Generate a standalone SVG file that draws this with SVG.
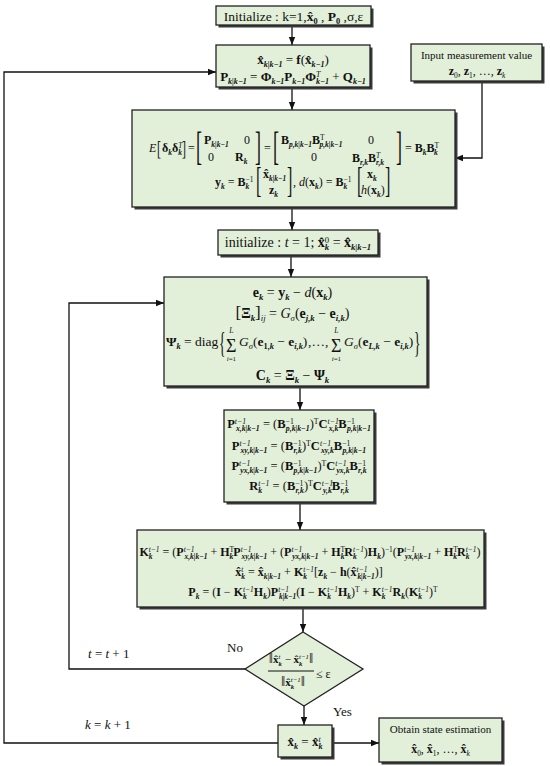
<svg xmlns="http://www.w3.org/2000/svg" width="550" height="766" viewBox="0 0 550 766">
<defs>
<style>
.m{font-family:"Liberation Serif","DejaVu Serif",serif;font-size:13px;fill:#111}
.b{font-weight:bold}
.i{font-style:italic}
.s{font-size:62%;baseline-shift:-3px}
.p{font-size:62%;baseline-shift:4.5px}
.bx{fill:#e2efd9;stroke:#222;stroke-width:1.3}
.sh{fill:#3a3a3a}
.ln{fill:none;stroke:#111;stroke-width:1.3}
.br{font-family:"Liberation Serif",serif;fill:#111}
.lb{font-family:"Liberation Serif",serif;font-size:13px;fill:#111}
</style>
<marker id="ah" viewBox="0 0 10 10" refX="10" refY="5" markerWidth="8" markerHeight="8" markerUnits="userSpaceOnUse" orient="auto"><path d="M0,1 L10,5 L0,9 z" fill="#111"/></marker>
</defs>
<rect width="550" height="766" fill="#fff"/>

<g id="connectors">
<path class="ln" d="M292,25 V45" marker-end="url(#ah)"/>
<path class="ln" d="M292,87 V110" marker-end="url(#ah)"/>
<path class="ln" d="M482,81 V158 H455" marker-end="url(#ah)"/>
<path class="ln" d="M292,207 V230" marker-end="url(#ah)"/>
<path class="ln" d="M291,255 V277" marker-end="url(#ah)"/>
<path class="ln" d="M300,386 V410" marker-end="url(#ah)"/>
<path class="ln" d="M300,502 V530" marker-end="url(#ah)"/>
<path class="ln" d="M303,607 V632" marker-end="url(#ah)"/>
<path class="ln" d="M304,706 V725" marker-end="url(#ah)"/>
<path class="ln" d="M332,743 H379" marker-end="url(#ah)"/>
<path class="ln" d="M245,669 H69 V303 H164" marker-end="url(#ah)"/>
<path class="ln" d="M278,743 H4 V72 H216" marker-end="url(#ah)"/>
<text class="lb" x="227" y="652">No</text>
<text class="lb" x="88" y="658"><tspan class="i">t</tspan> = <tspan class="i">t</tspan> + 1</text>
<text class="lb" x="333" y="716">Yes</text>
<text class="lb" x="85" y="729"><tspan class="i">k</tspan> = <tspan class="i">k</tspan> + 1</text>
</g>

<g id="n-init">
<rect class="sh" x="218.5" y="8.5" width="155" height="19"/>
<rect class="bx" x="216" y="6" width="155" height="19"/>
<text class="m" x="293.5" y="20.5" text-anchor="middle" style="font-size:13.5px">Initialize : k=1,<tspan class="b">x&#x302;</tspan><tspan class="s b">0</tspan> , <tspan class="b">P</tspan><tspan class="s b">0</tspan> ,σ,ε</text>
</g>

<g id="n-predict">
<rect class="sh" x="218.5" y="47.5" width="154" height="42"/>
<rect class="bx" x="216" y="45" width="154" height="42"/>
<text class="m" x="293" y="64" text-anchor="middle"><tspan class="b">x&#x302;</tspan><tspan class="s b i">k|k−1</tspan> = <tspan class="b">f</tspan>(<tspan class="b">x&#x302;</tspan><tspan class="s b i">k−1</tspan>)</text>
<text class="m" x="293" y="81" text-anchor="middle"><tspan class="b">P</tspan><tspan class="s b i">k|k−1</tspan> = <tspan class="b">Φ</tspan><tspan class="s b i">k−1</tspan><tspan class="b">P</tspan><tspan class="s b i">k−1</tspan><tspan class="b">Φ</tspan><tspan class="p i">T</tspan><tspan class="s b i" dx="-4.5">k−1</tspan> + <tspan class="b">Q</tspan><tspan class="s b i">k−1</tspan></text>
</g>

<g id="n-input">
<rect class="sh" x="413.5" y="46.5" width="131" height="37"/>
<rect class="bx" x="411" y="44" width="131" height="37"/>
<text class="m" x="476.5" y="59" text-anchor="middle" style="font-size:11px">Input measurement value</text>
<text class="m" x="477" y="75" text-anchor="middle" style="font-size:12px"><tspan class="b">z</tspan><tspan class="s">0</tspan>, <tspan class="b">z</tspan><tspan class="s">1</tspan>, …, <tspan class="b">z</tspan><tspan class="s i">k</tspan></text>
</g>

<g id="n-augment">
<rect class="sh" x="134.5" y="112.5" width="323" height="97"/>
<rect class="bx" x="132" y="110" width="323" height="97"/>
<text class="m i" x="149" y="152" style="font-size:12px">E</text>
<text class="br" transform="translate(157,155) scale(0.6,1)" style="font-size:20px">[</text>
<text class="m" x="162" y="152" style="font-size:12px"><tspan class="b">δ</tspan><tspan class="s b i">k</tspan><tspan class="b">δ</tspan><tspan class="p i">T</tspan><tspan class="s b i" dx="-4.2">k</tspan></text>
<text class="br" transform="translate(182,155) scale(0.6,1)" style="font-size:20px">]</text>
<text class="m" x="188" y="152" style="font-size:12px">=</text>
<text class="br" transform="translate(196,160) scale(0.45,1)" style="font-size:40px">[</text>
<text class="m" x="204" y="144" style="font-size:12px"><tspan class="b">P</tspan><tspan class="s b i">k|k−1</tspan></text>
<text class="m" x="244" y="144" style="font-size:12px">0</text>
<text class="m" x="208" y="161" style="font-size:12px">0</text>
<text class="m" x="235" y="161" style="font-size:12px"><tspan class="b">R</tspan><tspan class="s b i">k</tspan></text>
<text class="br" transform="translate(255,160) scale(0.45,1)" style="font-size:40px">]</text>
<text class="m" x="264" y="152" style="font-size:12px">=</text>
<text class="br" transform="translate(273,160) scale(0.45,1)" style="font-size:40px">[</text>
<text class="m" x="281" y="144" style="font-size:12px"><tspan class="b">B</tspan><tspan class="s b i">p,k|k−1</tspan><tspan class="b">B</tspan><tspan class="p">T</tspan><tspan class="s b i" dx="-5">p,k|k−1</tspan></text>
<text class="m" x="368" y="144" style="font-size:12px">0</text>
<text class="m" x="311" y="161" style="font-size:12px">0</text>
<text class="m" x="352" y="162" style="font-size:12px"><tspan class="b">B</tspan><tspan class="s b i">r,k</tspan><tspan class="b">B</tspan><tspan class="p i">T</tspan><tspan class="s b i" dx="-4.2">r,k</tspan></text>
<text class="br" transform="translate(396,160) scale(0.45,1)" style="font-size:40px">]</text>
<text class="m" x="405" y="152" style="font-size:12px">= <tspan class="b">B</tspan><tspan class="s b i">k</tspan><tspan class="b">B</tspan><tspan class="p">T</tspan><tspan class="s b i" dx="-5">k</tspan></text>

<text class="m" x="215" y="186" style="font-size:12px"><tspan class="b">y</tspan><tspan class="s b i">k</tspan> = <tspan class="b">B</tspan><tspan class="s b i">k</tspan><tspan class="p" dx="-3.7">−1</tspan></text>
<text class="br" transform="translate(256,192) scale(0.45,1)" style="font-size:36px">[</text>
<text class="m" x="263" y="178" style="font-size:12px"><tspan class="b">x&#x302;</tspan><tspan class="s b i">k|k−1</tspan></text>
<text class="m" x="269" y="194" style="font-size:12px"><tspan class="b">z</tspan><tspan class="s b i">k</tspan></text>
<text class="br" transform="translate(287,192) scale(0.45,1)" style="font-size:36px">]</text>
<text class="m" x="293" y="186" style="font-size:12px">, <tspan class="i">d</tspan>(<tspan class="b">x</tspan><tspan class="s b i">k</tspan>) = <tspan class="b">B</tspan><tspan class="s b i">k</tspan><tspan class="p" dx="-3.7">−1</tspan></text>
<text class="br" transform="translate(357,192) scale(0.45,1)" style="font-size:36px">[</text>
<text class="m" x="367" y="178" style="font-size:12px"><tspan class="b">x</tspan><tspan class="s b i">k</tspan></text>
<text class="m" x="361" y="194" style="font-size:12px"><tspan class="i">h</tspan>(<tspan class="b">x</tspan><tspan class="s b i">k</tspan>)</text>
<text class="br" transform="translate(385,192) scale(0.45,1)" style="font-size:36px">]</text>
</g>

<g id="n-init-t">
<rect class="sh" x="220.5" y="232.5" width="160" height="25"/>
<rect class="bx" x="218" y="230" width="160" height="25"/>
<text class="m" x="298" y="247" text-anchor="middle" style="font-size:14px">initialize : <tspan class="i">t</tspan> = 1; <tspan class="b">x&#x302;</tspan><tspan class="p">0</tspan><tspan class="s b i" dx="-4.4">k</tspan> = <tspan class="b">x&#x302;</tspan><tspan class="s b i">k|k−1</tspan></text>
</g>

<g id="n-error">
<rect class="sh" x="166.5" y="279.5" width="263" height="109"/>
<rect class="bx" x="164" y="277" width="263" height="109"/>
<text class="m" x="292.5" y="297" text-anchor="middle" style="font-size:14px"><tspan class="b">e</tspan><tspan class="s b i">k</tspan> = <tspan class="b">y</tspan><tspan class="s b i">k</tspan> − <tspan class="i">d</tspan>(<tspan class="b">x</tspan><tspan class="s b i">k</tspan>)</text>
<text class="m" x="292.5" y="318" text-anchor="middle" style="font-size:14px"><tspan style="font-size:17px">[</tspan><tspan class="b">Ξ</tspan><tspan class="s b i">k</tspan><tspan style="font-size:17px">]</tspan><tspan class="s i">ij</tspan> = <tspan class="i">G</tspan><tspan class="s i">σ</tspan>(<tspan class="b">e</tspan><tspan class="s b i">j,k</tspan> − <tspan class="b">e</tspan><tspan class="s b i">i,k</tspan>)</text>
<text class="m" x="166" y="346" style="font-size:13.5px"><tspan class="b">Ψ</tspan><tspan class="s b i">k</tspan> = diag</text>
<text class="br" transform="translate(219,352) scale(0.45,1)" style="font-size:30px">{</text>
<text class="br" x="226" y="352" style="font-size:18px">Σ</text>
<text class="m i" x="231.4" y="333" text-anchor="middle" style="font-size:7.5px">L</text>
<text class="m" x="231.4" y="361" text-anchor="middle" style="font-size:7px"><tspan class="i">i</tspan>=1</text>
<text class="m" x="239" y="346" style="font-size:13.5px"><tspan class="i">G</tspan><tspan class="s i">σ</tspan>(<tspan class="b">e</tspan><tspan class="s b">1,<tspan class="i">k</tspan></tspan> − <tspan class="b">e</tspan><tspan class="s b i">i,k</tspan>)</text>
<text class="m" x="308" y="346" style="font-size:13.5px">,…,</text>
<text class="br" x="331" y="352" style="font-size:18px">Σ</text>
<text class="m i" x="336.4" y="333" text-anchor="middle" style="font-size:7.5px">L</text>
<text class="m" x="336.4" y="361" text-anchor="middle" style="font-size:7px"><tspan class="i">i</tspan>=1</text>
<text class="m" x="344" y="346" style="font-size:13.5px"><tspan class="i">G</tspan><tspan class="s i">σ</tspan>(<tspan class="b">e</tspan><tspan class="s b i">L,k</tspan> − <tspan class="b">e</tspan><tspan class="s b i">i,k</tspan>)</text>
<text class="br" transform="translate(414,352) scale(0.45,1)" style="font-size:30px">}</text>
<text class="m" x="292.5" y="380" text-anchor="middle" style="font-size:14px"><tspan class="b">C</tspan><tspan class="s b i">k</tspan> = <tspan class="b">Ξ</tspan><tspan class="s b i">k</tspan> − <tspan class="b">Ψ</tspan><tspan class="s b i">k</tspan></text>
</g>

<g id="n-cov">
<rect class="sh" x="226.5" y="412.5" width="150" height="92"/>
<rect class="bx" x="224" y="410" width="150" height="92"/>
<text class="m" x="299" y="428" text-anchor="middle" style="font-size:12.5px"><tspan class="b">P</tspan><tspan class="p i">t−1</tspan><tspan class="s b i" dx="-10.2">x,k|k−1</tspan> = (<tspan class="b">B</tspan><tspan class="p">−1</tspan><tspan class="s b i" dx="-8">p,k|k−1</tspan>)<tspan class="p">T</tspan><tspan class="b">C</tspan><tspan class="p i">t−1</tspan><tspan class="s b i" dx="-10.2">x,k</tspan><tspan class="b">B</tspan><tspan class="p">−1</tspan><tspan class="s b i" dx="-8">p,k|k−1</tspan></text>
<text class="m" x="299" y="450" text-anchor="middle" style="font-size:12.5px"><tspan class="b">P</tspan><tspan class="p i">t−1</tspan><tspan class="s b i" dx="-10.2">xy,k|k−1</tspan> = (<tspan class="b">B</tspan><tspan class="p">−1</tspan><tspan class="s b i" dx="-8">r,k</tspan>)<tspan class="p">T</tspan><tspan class="b">C</tspan><tspan class="p i">t−1</tspan><tspan class="s b i" dx="-10.2">xy,k</tspan><tspan class="b">B</tspan><tspan class="p">−1</tspan><tspan class="s b i" dx="-8">p,k|k−1</tspan></text>
<text class="m" x="299" y="470" text-anchor="middle" style="font-size:12.5px"><tspan class="b">P</tspan><tspan class="p i">t−1</tspan><tspan class="s b i" dx="-10.2">yx,k|k−1</tspan> = (<tspan class="b">B</tspan><tspan class="p">−1</tspan><tspan class="s b i" dx="-8">p,k|k−1</tspan>)<tspan class="p">T</tspan><tspan class="b">C</tspan><tspan class="p i">t−1</tspan><tspan class="s b i" dx="-10.2">yx,k</tspan><tspan class="b">B</tspan><tspan class="p">−1</tspan><tspan class="s b i" dx="-8">r,k</tspan></text>
<text class="m" x="299" y="490" text-anchor="middle" style="font-size:12.5px"><tspan class="b">R</tspan><tspan class="s b i">k</tspan><tspan class="p i" dx="-3.9">t−1</tspan> = (<tspan class="b">B</tspan><tspan class="p">−1</tspan><tspan class="s b i" dx="-8">r,k</tspan>)<tspan class="p">T</tspan><tspan class="b">C</tspan><tspan class="p i">t−1</tspan><tspan class="s b i" dx="-10.2">y,k</tspan><tspan class="b">B</tspan><tspan class="p">−1</tspan><tspan class="s b i" dx="-8">r,k</tspan></text>
</g>

<g id="n-gain">
<rect class="sh" x="139.5" y="532.5" width="347" height="77"/>
<rect class="bx" x="137" y="530" width="347" height="77"/>
<text class="m" x="310" y="556" text-anchor="middle" style="font-size:12px"><tspan class="b">K</tspan><tspan class="s b i">k</tspan><tspan class="p i" dx="-3.7">t−1</tspan> = (<tspan class="b">P</tspan><tspan class="p i">t−1</tspan><tspan class="s b i" dx="-10">x,k|k−1</tspan> + <tspan class="b">H</tspan><tspan class="p">T</tspan><tspan class="s b i" dx="-4.5">k</tspan><tspan class="b">P</tspan><tspan class="p i">t−1</tspan><tspan class="s b i" dx="-10">xy,k|k−1</tspan> + (<tspan class="b">P</tspan><tspan class="p i">t−1</tspan><tspan class="s b i" dx="-10">yx,k|k−1</tspan> + <tspan class="b">H</tspan><tspan class="p">T</tspan><tspan class="s b i" dx="-4.5">k</tspan><tspan class="b">R</tspan><tspan class="s b i">k</tspan><tspan class="p i" dx="-3.7">t−1</tspan>)<tspan class="b">H</tspan><tspan class="s b i">k</tspan>)<tspan class="p">−1</tspan>(<tspan class="b">P</tspan><tspan class="p i">t−1</tspan><tspan class="s b i" dx="-10">yx,k|k−1</tspan> + <tspan class="b">H</tspan><tspan class="p">T</tspan><tspan class="s b i" dx="-4.5">k</tspan><tspan class="b">R</tspan><tspan class="s b i">k</tspan><tspan class="p i" dx="-3.7">t−1</tspan>)</text>
<text class="m" x="309" y="576" text-anchor="middle" style="font-size:12px"><tspan class="b">x&#x302;</tspan><tspan class="p i">t</tspan><tspan class="s b i" dx="-2.1">k</tspan> = <tspan class="b">x&#x302;</tspan><tspan class="s b i">k|k−1</tspan> + <tspan class="b">K</tspan><tspan class="s b i">k</tspan><tspan class="p i" dx="-3.7">t−1</tspan>[<tspan class="b">z</tspan><tspan class="s b i">k</tspan> − <tspan class="b">h</tspan>(<tspan class="b">x&#x302;</tspan><tspan class="p i">t−1</tspan><tspan class="s b i" dx="-10">k|k−1</tspan>)]</text>
<text class="m" x="313" y="596" text-anchor="middle" style="font-size:12px"><tspan class="b">P</tspan><tspan class="s b i">k</tspan> = (<tspan class="b">I</tspan> − <tspan class="b">K</tspan><tspan class="s b i">k</tspan><tspan class="p i" dx="-3.7">t−1</tspan><tspan class="b">H</tspan><tspan class="s b i">k</tspan>)<tspan class="b">P</tspan><tspan class="p i">t−1</tspan><tspan class="s b i" dx="-10">k|k−1</tspan>(<tspan class="b">I</tspan> − <tspan class="b">K</tspan><tspan class="s b i">k</tspan><tspan class="p i" dx="-3.7">t−1</tspan><tspan class="b">H</tspan><tspan class="s b i">k</tspan>)<tspan class="p">T</tspan> + <tspan class="b">K</tspan><tspan class="s b i">k</tspan><tspan class="p i" dx="-3.7">t−1</tspan><tspan class="b">R</tspan><tspan class="s b i">k</tspan>(<tspan class="b">K</tspan><tspan class="s b i">k</tspan><tspan class="p i" dx="-3.7">t−1</tspan>)<tspan class="p">T</tspan></text>
</g>

<g id="n-check">
<polygon class="bx" points="303,632 363,669 304,706 245,669"/>
<text class="m" x="291" y="663" text-anchor="middle" style="font-size:11px"><tspan style="font-size:15px">‖</tspan><tspan class="b">x&#x302;</tspan><tspan class="p i">t</tspan><tspan class="s b i" dx="-1.9">k</tspan> − <tspan class="b">x&#x302;</tspan><tspan class="s b i">k</tspan><tspan class="p i" dx="-3.4">t−1</tspan><tspan style="font-size:15px">‖</tspan></text>
<line x1="268" y1="671" x2="314" y2="671" stroke="#111" stroke-width="1"/>
<text class="m" x="293" y="686" text-anchor="middle" style="font-size:11px"><tspan style="font-size:15px">‖</tspan><tspan class="b">x&#x302;</tspan><tspan class="s b i">k</tspan><tspan class="p i" dx="-3.4">t−1</tspan><tspan style="font-size:15px">‖</tspan></text>
<text class="m" x="316" y="678" style="font-size:12px">≤ ε</text>
</g>

<g id="n-update">
<rect class="sh" x="280.5" y="727.5" width="54" height="32"/>
<rect class="bx" x="278" y="725" width="54" height="32"/>
<text class="m" x="305" y="746" text-anchor="middle"><tspan class="b">x&#x302;</tspan><tspan class="s b i">k</tspan> = <tspan class="b">x&#x302;</tspan><tspan class="p i">t</tspan><tspan class="s b i" dx="-2.3">k</tspan></text>
</g>

<g id="n-output">
<rect class="sh" x="381.5" y="720.5" width="123" height="44"/>
<rect class="bx" x="379" y="718" width="123" height="44"/>
<text class="m" x="440.5" y="733" text-anchor="middle" style="font-size:11px">Obtain state estimation</text>
<text class="m" x="440.5" y="753" text-anchor="middle" style="font-size:12px"><tspan class="b">x&#x302;</tspan><tspan class="s">0</tspan>, <tspan class="b">x&#x302;</tspan><tspan class="s">1</tspan>, …, <tspan class="b">x&#x302;</tspan><tspan class="s i">k</tspan></text>
</g>
</svg>
